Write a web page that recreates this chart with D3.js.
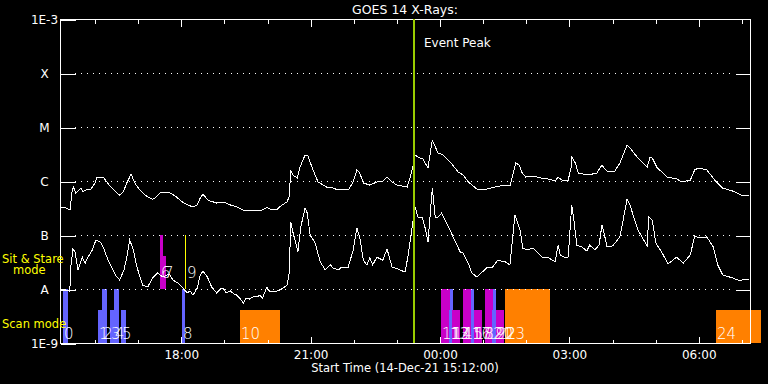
<!DOCTYPE html>
<html><head><meta charset="utf-8">
<script src="https://cdn.jsdelivr.net/npm/d3@7"></script>
<style>
body{margin:0;background:#000}
svg{display:block;background:#000}
text{font-family:"DejaVu Sans",sans-serif;fill:#fff}
</style>
</head><body><svg width="768" height="384"></svg>
<script>
// ---------- data ----------
const startTime = Date.UTC(2021, 11, 14, 15, 12);   // 14-Dec-21 15:12:00
const spanMinutes = 960;
const eventPeakMinute = 493;
const titleText = "GOES 14 X-Rays:";
const xTitle = "Start Time (14-Dec-21 15:12:00)";

const levelValues = [1e-9, 1e-8, 1e-7, 1e-6, 1e-5, 1e-4, 1e-3];
const levelLabels = ["1E-9", "A", "B", "C", "M", "X", "1E-3"];
const gridLevels = [1e-8, 1e-7, 1e-6, 1e-5, 1e-4];

// long channel (1-8 A), minutes after start / flux W m^-2
const longMinutes = [1,8,14,17,19,22,26,29,32,38,43,49,51,61,65,71,79,83,88,93,99,104,111,118,128,132,139,153,160,170,178,185,191,195,199,206,218,227,237,246,255,269,278,288,296,302,309,316,319,321,324,330,334,341,345,351,359,371,380,387,397,402,408,413,417,422,431,441,448,455,462,469,476,483,487,491,494,498,501,505,512,518,519,526,533,543,554,561,568,580,594,605,612,626,630,634,639,643,648,658,668,679,689,693,700,707,711,712,717,721,735,747,754,757,762,772,779,789,793,803,817,821,824,831,839,845,858,865,877,883,888,900,911,922,936,950,959];
const longFlux = [0.33e-6,0.32e-6,0.29e-6,0.68e-6,0.77e-6,0.60e-6,0.68e-6,0.74e-6,0.63e-6,0.71e-6,0.71e-6,0.92e-6,1.14e-6,1.14e-6,0.96e-6,0.77e-6,0.60e-6,0.55e-6,0.63e-6,0.92e-6,1.35e-6,0.92e-6,0.68e-6,0.55e-6,0.46e-6,0.48e-6,0.60e-6,0.60e-6,0.53e-6,0.41e-6,0.36e-6,0.33e-6,0.36e-6,0.48e-6,0.57e-6,0.44e-6,0.39e-6,0.41e-6,0.36e-6,0.33e-6,0.29e-6,0.28e-6,0.28e-6,0.32e-6,0.29e-6,0.30e-6,0.36e-6,0.41e-6,0.53e-6,1.6e-6,1.29e-6,1.14e-6,1.82e-6,3.03e-6,2.9e-6,1.74e-6,0.96e-6,0.77e-6,0.74e-6,0.68e-6,0.71e-6,0.71e-6,0.96e-6,1.6e-6,1.41e-6,0.92e-6,0.84e-6,0.96e-6,0.96e-6,1.18e-6,0.96e-6,0.84e-6,0.81e-6,0.77e-6,1.14e-6,1.82e-6,3.03e-6,2.78e-6,2.66e-6,2.55e-6,1.74e-6,5.74e-6,5.27e-6,3.3e-6,3.03e-6,2.25e-6,1.47e-6,1.29e-6,0.96e-6,0.71e-6,0.71e-6,0.77e-6,0.81e-6,0.81e-6,1.29e-6,2.15e-6,1.98e-6,1.41e-6,1.18e-6,1.24e-6,1.14e-6,1.09e-6,1.0e-6,1.18e-6,1.0e-6,1.04e-6,1.74e-6,2.78e-6,2.15e-6,1.41e-6,1.29e-6,1.41e-6,1.98e-6,1.74e-6,1.47e-6,1.53e-6,2.15e-6,4.64e-6,4.08e-6,2.78e-6,1.82e-6,2.78e-6,2.66e-6,1.74e-6,1.41e-6,1.18e-6,1.09e-6,0.96e-6,1.04e-6,1.6e-6,1.74e-6,1.6e-6,1.04e-6,0.74e-6,0.65e-6,0.53e-6,0.53e-6];

// short channel (0.5-4 A)
const shortMinutes = [1,8,13,14,15,18,21,25,31,35,39,45,50,56,60,67,77,83,89,93,97,102,107,115,122,129,136,143,149,153,157,164,171,177,181,185,191,195,199,205,211,218,223,227,231,237,242,246,250,255,259,264,270,274,278,282,285,288,292,296,302,306,310,316,319,321,324,330,331,335,341,344,348,355,362,369,376,380,387,392,401,408,413,417,422,427,431,435,441,449,455,462,470,480,484,490,494,498,504,508,512,518,522,526,531,538,547,557,561,568,573,580,589,595,602,609,619,626,633,640,644,650,658,671,678,689,693,696,703,707,712,715,719,726,733,737,744,750,754,757,761,769,779,789,793,804,817,819,824,829,838,846,858,867,877,883,890,900,909,915,922,936,946,952,959];
const shortFlux = [9.6e-9,9.6e-9,9.2e-9,1.18e-8,2.55e-8,5.5e-8,4.8e-8,2.25e-8,3.9e-8,3.0e-8,3.9e-8,5.3e-8,8.1e-8,7.4e-8,6.0e-8,3.4e-8,1.82e-8,1.47e-8,2.25e-8,3.9e-8,8.1e-8,5.3e-8,2.55e-8,1.18e-8,1.09e-8,1.6e-8,1.98e-8,1.67e-8,1.82e-8,1.82e-8,1.47e-8,1.29e-8,1.04e-8,8.4e-9,9.2e-9,7.7e-9,1.04e-8,1.82e-8,2.15e-8,1.67e-8,1.09e-8,8.4e-9,1.0e-8,1.04e-8,8.4e-9,9.2e-9,8.1e-9,7.7e-9,6.8e-9,5.5e-9,6.8e-9,6.5e-9,7.4e-9,7.1e-9,7.7e-9,6.8e-9,8.8e-9,1.09e-8,8.8e-9,8.8e-9,9.2e-9,9.6e-9,1.04e-8,1.18e-8,1.98e-8,1.74e-7,1.14e-7,5.5e-8,4.8e-8,1.41e-7,3.16e-7,2.55e-7,1.0e-7,7.1e-8,3.2e-8,2.25e-8,2.8e-8,2.45e-8,2.25e-8,2.55e-8,2.55e-8,5.3e-8,1.35e-7,9.2e-8,3.4e-8,2.8e-8,3.75e-8,2.8e-8,3.9e-8,3.4e-8,5.5e-8,2.55e-8,2.34e-8,2.06e-8,3.9e-8,1.41e-7,3.3e-7,2.15e-7,2.15e-7,1.35e-7,7.4e-8,7.4e-7,2.15e-7,2.15e-7,2.55e-7,1.67e-7,9.2e-8,4.8e-8,4.6e-8,3.0e-8,1.98e-8,1.67e-8,2.15e-8,2.55e-8,2.55e-8,3.4e-8,3.2e-8,2.8e-8,2.35e-7,1.24e-7,5.7e-8,5.3e-8,5.7e-8,3.9e-8,3.9e-8,3.2e-8,6.5e-8,4.3e-8,3.75e-8,3.9e-8,3.6e-7,1.9e-7,6.5e-8,6.0e-8,5.05e-8,6.5e-8,5.3e-8,6.5e-8,1.53e-7,1.09e-7,6.0e-8,6.3e-8,9.2e-8,4.64e-7,3.6e-7,1.24e-7,6.3e-8,2.15e-7,1.9e-7,7.1e-8,4.6e-8,2.9e-8,3.9e-8,3.0e-8,4.3e-8,9.6e-8,8.8e-8,9.2e-8,6.0e-8,2.8e-8,1.82e-8,1.6e-8,1.41e-8,1.53e-8,1.53e-8];

// observation bars (scan / sit & stare), minutes after start
const barIds    = [0,1,2,3,4,5,6,7,8,9,10,11,12,13,14,15,16,17,18,19,20,21,22,23,24];
const barStart  = [4,53,58,70,75,85,139,143,170,174,250,530,543,541,545,561,572,572,576,591,602,601,607,619,913];
const barEnd    = [11,58,65,75,82,92,143,147,174,174,306,543,547,545,557,572,576,576,587,602,607,605,618,682,975];
const barMode   = ["scan","scan","scan","scan","scan","scan","stare","stare","scan","stare","scan","scan","scan","scan","scan","scan","scan","scan","scan","scan","scan","scan","scan","scan","scan"];
const barKind   = ["blue","blue","blue","blue","blue","blue","magenta","magenta","blue","line","orange","magenta","blue","blue","magenta","magenta","blue","blue","magenta","magenta","blue","blue","magenta","orange","orange"];
const barFull   = [true,false,true,false,true,false,true,false,true,true,false,true,true,false,false,true,true,false,false,true,true,false,false,true,false];

// ---------- drawing ----------
const L = 60, R = 750, T = 19, B = 343;
const colors = {blue:"#6464ff", magenta:"#c800c8", orange:"#ff8000", line:"#ffff00"};
const tAt = m => new Date(startTime + m * 60000);

const svg = d3.select("svg");
const x = d3.scaleUtc().domain([tAt(0), tAt(spanMinutes)]).range([L, R]);
const y = d3.scaleLog().domain([1e-9, 1e-3]).range([B, T]);

// bars
const bands = {scan:[1e-9,1e-8], stare:[1e-8,1e-7]};
const shortFrac = 0.61;
const barData = barIds.map((id,i)=>({id, s:barStart[i], e:barEnd[i], mode:barMode[i], kind:barKind[i], full:barFull[i]}));
function topVal(d){
  const [lo,hi] = bands[d.mode];
  if (d.full) return hi;
  return Math.pow(10, Math.log10(lo) + shortFrac*(Math.log10(hi)-Math.log10(lo)));
}
const gBars = svg.append("g").attr("shape-rendering","crispEdges");
gBars.selectAll("rect").data(barData.filter(d=>d.kind!=="line")).join("rect")
  .attr("x", d=>Math.round(x(tAt(d.s))))
  .attr("width", d=>Math.max(1, Math.round(x(tAt(d.e))) - Math.round(x(tAt(d.s)))))
  .attr("y", d=>Math.round(y(topVal(d))))
  .attr("height", d=>Math.round(y(bands[d.mode][0])) - Math.round(y(topVal(d))))
  .style("fill", d=>colors[d.kind]);
gBars.selectAll("line").data(barData.filter(d=>d.kind==="line")).join("line")
  .attr("x1", d=>Math.round(x(tAt(d.s)))+0.5).attr("x2", d=>Math.round(x(tAt(d.s)))+0.5)
  .attr("y1", d=>y(bands[d.mode][1])).attr("y2", d=>y(bands[d.mode][0]))
  .style("stroke", colors.line).style("stroke-width","1px");

// gridlines (dotted)
const gGrid = svg.append("g").attr("shape-rendering","crispEdges");
gGrid.selectAll("line").data(gridLevels).join("line")
  .attr("x1", L+15).attr("x2", R-15)
  .attr("y1", d=>Math.round(y(d))+0.5).attr("y2", d=>Math.round(y(d))+0.5)
  .attr("stroke","#fff").attr("stroke-width",1).attr("stroke-dasharray","1,5");

// left axis with class labels
const yAxisL = d3.axisLeft(y).tickValues(levelValues).tickFormat((d,i)=>levelLabels[i]).tickSize(-15).tickPadding(16);
const gL = svg.append("g").attr("transform",`translate(${L+0.5},0.5)`).call(yAxisL);
gL.select(".domain").remove();
gL.selectAll("text").attr("text-anchor","middle").style("font-size","12px").attr("fill","#fff");
gL.selectAll("line").attr("stroke","#fff").attr("shape-rendering","crispEdges");

const yAxisR = d3.axisRight(y).tickValues(gridLevels).tickFormat("").tickSize(-15);
const gR = svg.append("g").attr("transform",`translate(${R+0.5},0.5)`).call(yAxisR);
gR.select(".domain").remove();
gR.selectAll("line").attr("stroke","#fff").attr("shape-rendering","crispEdges");

// time axes
function timeAxes(axisFn, yPos){
  const minor = axisFn(x).ticks(d3.utcHour.every(1)).tickFormat("").tickSize(-4);
  const g1 = svg.append("g").attr("transform",`translate(0.5,${yPos+0.5})`).call(minor);
  g1.select(".domain").remove();
  g1.selectAll("line").attr("stroke","#fff").attr("shape-rendering","crispEdges");
  const major = axisFn(x).ticks(d3.utcHour.every(3)).tickFormat(d3.utcFormat("%H:%M")).tickSize(-7).tickPadding(7);
  const g2 = svg.append("g").attr("transform",`translate(0.5,${yPos+0.5})`).call(major);
  g2.select(".domain").remove();
  g2.selectAll("line").attr("stroke","#fff").attr("shape-rendering","crispEdges");
  g2.selectAll("text").style("font-size","12px").attr("fill","#fff");
  return g2;
}
timeAxes(d3.axisBottom, B);
const gTop = timeAxes(d3.axisTop, T);
gTop.selectAll("text").remove();

// frame
svg.append("rect").attr("x",L+0.5).attr("y",T+0.5).attr("width",R-L).attr("height",B-T)
  .attr("fill","none").attr("stroke","#fff").attr("shape-rendering","crispEdges");

// curves
const line = d3.line().x(d=>x(tAt(d[0]))).y(d=>y(d[1]));
const longPts = longMinutes.map((m,i)=>[m,longFlux[i]]);
const shortPts = shortMinutes.map((m,i)=>[m,shortFlux[i]]);
svg.append("path").attr("d", line(longPts)).attr("fill","none").attr("stroke","#fff").attr("stroke-width",1).attr("shape-rendering","crispEdges");
svg.append("path").attr("d", line(shortPts)).attr("fill","none").attr("stroke","#fff").attr("stroke-width",1).attr("shape-rendering","crispEdges");

// event peak
const xe = Math.round(x(tAt(eventPeakMinute)));
svg.append("line").attr("x1",xe).attr("x2",xe).attr("y1",T).attr("y2",B)
  .attr("stroke","#99cc00").attr("stroke-width",2).attr("shape-rendering","crispEdges");
svg.append("text").attr("x",xe+10).attr("y",47).style("font-size","12px").text("Event Peak");

// bar labels
svg.append("g").selectAll("text").data(barData).join("text")
  .attr("x", d=>Math.round(x(tAt(d.s)))+ (d.kind==="line"?2:1))
  .attr("y", d=>d.mode==="scan" ? 339 : 278)
  .style("font-size","15px").style("font-weight","200")
  .text(d=>d.id);

// titles and side labels
svg.append("text").attr("x",(L+R)/2).attr("y",14).attr("text-anchor","middle").style("font-size","12.5px").text(titleText);
svg.append("text").attr("x",(L+R)/2).attr("y",372).attr("text-anchor","middle").style("font-size","11.5px").text(xTitle);
svg.append("text").attr("x",2).attr("y",263).style("font-size","11.5px").style("fill","#ffff00").text("Sit & Stare");
svg.append("text").attr("x",13).attr("y",274).style("font-size","11.5px").style("fill","#ffff00").text("mode");
svg.append("text").attr("x",2).attr("y",328).style("font-size","11.5px").style("fill","#ffff00").text("Scan mode");
</script>
</body></html>
